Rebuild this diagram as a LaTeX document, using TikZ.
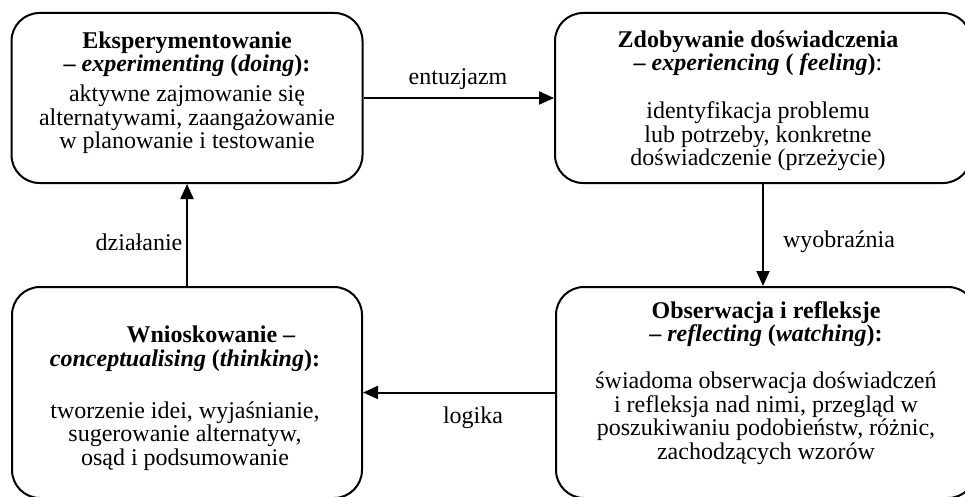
\documentclass[tikz,border=0pt]{standalone}
\usepackage{fontspec}
\setmainfont{Liberation Serif}
\usetikzlibrary{arrows.meta}
\newcommand\fst{\rule{0pt}{19pt}}
\begin{document}
\begin{tikzpicture}[x=1pt,y=-1pt,
  box/.style={draw, line width=2pt, rounded corners=28pt, inner sep=0pt},
  txt/.style={align=center, inner sep=0pt, font=\fontsize{24pt}{23.5pt}\selectfont, anchor=north,
    execute at begin node={\lineskiplimit=-50pt}},
  lbl/.style={inner sep=0pt, font=\fontsize{24pt}{23.5pt}\selectfont, anchor=base},
  arr/.style={line width=2pt, -{Triangle[length=15pt,width=13pt]}}]
\useasboundingbox (0,0) rectangle (965,497);
% boxes
\node[box, minimum width=351pt, minimum height=170pt] (A) at (187,98) {};
\node[box, minimum width=416pt, minimum height=170pt] (B) at (763,98) {};
\node[box, minimum width=350pt, minimum height=211pt] (C) at (187,392.5) {};
\node[box, minimum width=420pt, minimum height=211pt] (D) at (766,392.5) {};
% texts
\node[txt] (At) at (187,29) {\fst\textbf{Eksperymentowanie}\\
  \textbf{– \textit{experimenting} (\textit{doing}):}\\[6.5pt]
  aktywne zajmowanie się\\ alternatywami, zaangażowanie\\ w planowanie i testowanie};
\node[txt] (Bt) at (758,28) {\fst\textbf{Zdobywanie doświadczenia}\\
  \textbf{– \textit{experiencing} ( \textit{feeling})}:\\[24.5pt]
  identyfikacja problemu\\ lub potrzeby, konkretne\\ doświadczenie (przeżycie)};
\node[txt] (Ct) at (185,323.5) {\fst\hspace*{52pt}\textbf{Wnioskowanie –}\\
  \textbf{\textit{conceptualising} (\textit{thinking}):}\\[28.5pt]
  tworzenie idei, wyjaśnianie,\\ sugerowanie alternatyw,\\ osąd i podsumowanie};
\node[txt] (Dt) at (766,299) {\fst\textbf{Obserwacja i refleksje}\\
  \textbf{– \textit{reflecting} (\textit{watching}):}\\[23.5pt]
  świadoma obserwacja doświadczeń\\ i refleksja nad nimi, przegląd w\\
  poszukiwaniu podobieństw, różnic,\\ zachodzących wzorów};
% connectors
\draw[arr] (A) -- (B);
\draw[arr] (B.south) -- (B.south |- D.north);
\draw[arr] (D) -- (C);
\draw[arr] (C) -- (A);
% labels
\node[lbl] (l1) at (458,85) {entuzjazm};
\node[lbl] (l2) at (839,247) {wyobraźnia};
\node[lbl] (l3) at (473,423) {logika};
\node[lbl] (l4) at (139,250) {działanie};
\end{tikzpicture}
\end{document}
